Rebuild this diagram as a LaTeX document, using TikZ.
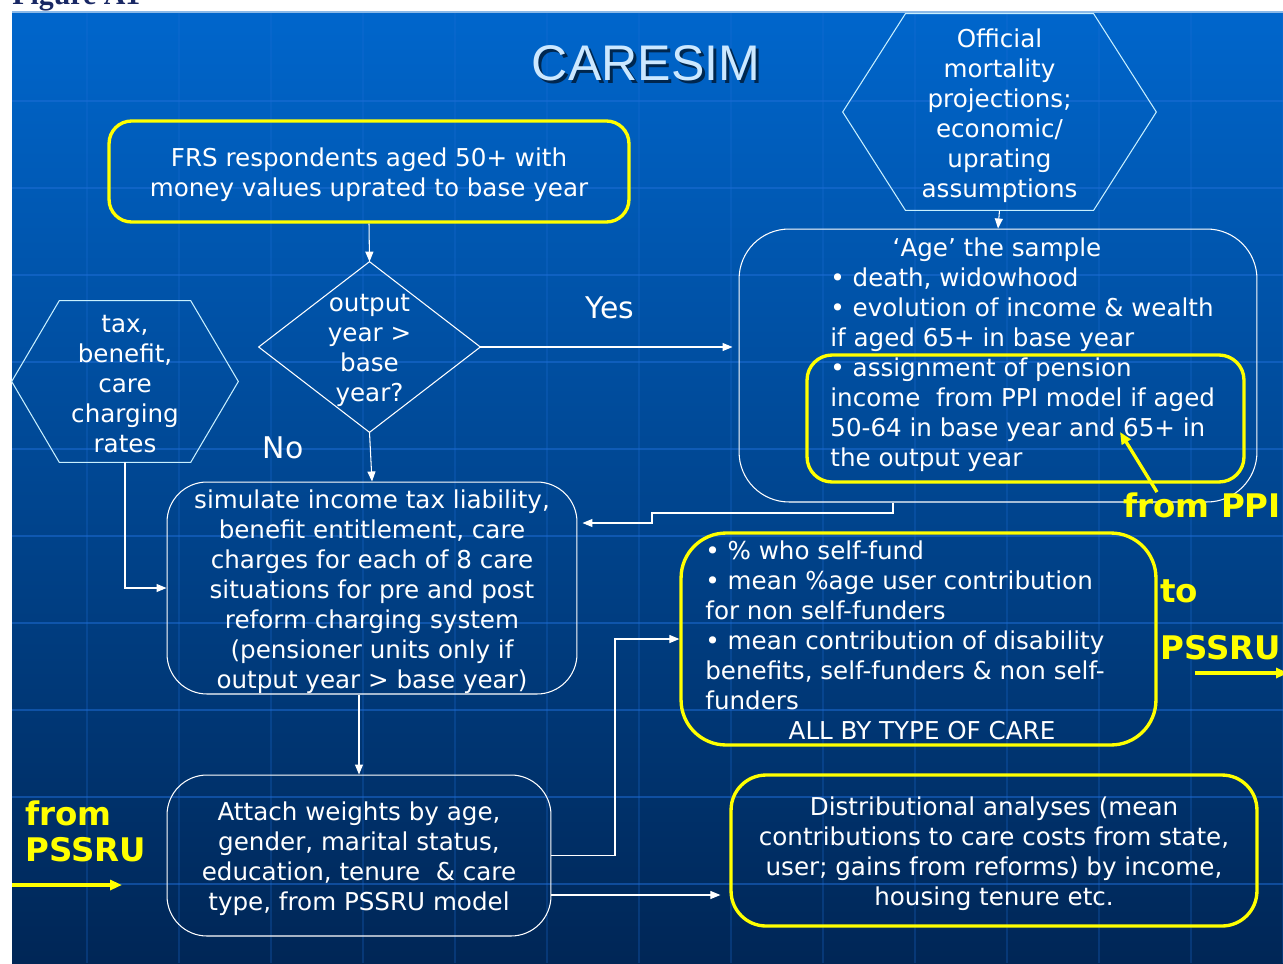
\documentclass[tikz,border=0pt]{standalone}
\usepackage{fontspec}
\setmainfont{DejaVu Sans}
\newfontfamily\titlefont{Liberation Sans}
\newfontfamily\figfont{Liberation Serif}
\usetikzlibrary{calc,arrows.meta}
\definecolor{slidetop}{RGB}{0,102,204}
\definecolor{slidemid}{RGB}{0,76,152}
\definecolor{slidebot}{RGB}{0,38,86}
\definecolor{gridblue}{RGB}{30,110,215}
\definecolor{boxyellow}{RGB}{255,255,0}
\definecolor{titleblue}{RGB}{204,232,255}
\definecolor{figblue}{RGB}{25,40,100}
\definecolor{hexline}{RGB}{200,240,255}

\begin{document}
\begin{tikzpicture}[x=0.02cm,y=0.02cm]
      \tikzstyle{every node}+=[inner sep=0pt, text=white]
      \tikzstyle{txt}=[font=\fontsize{14}{17.07}\selectfont, align=center]
      \tikzstyle{wbox}=[draw=white, line width=0.6pt, rounded corners=0.8cm]
      \tikzstyle{ybox}=[draw=boxyellow, line width=1.9pt, rounded corners=0.5cm]
      \tikzstyle{conn}=[white, line width=0.6pt, -{Triangle[length=2mm,width=1.6mm]}]
      \tikzstyle{yconn}=[boxyellow, line width=1.9pt, -{Triangle[length=2.4mm,width=2mm]}]
      \tikzstyle{ylab}=[text=boxyellow, font=\fontsize{18.5}{21}\selectfont\bfseries, anchor=west]
      \useasboundingbox (0,0) rectangle (1283,-963);
      \clip (0,0) rectangle (1283,-963);
      \fill [white] (0,0) rectangle (1283,-963);
      \shade [top color=slidetop, middle color=slidemid, bottom color=slidebot] (12,-12) rectangle (1283,-963);
      \foreach \gy in {101,188,...,886}
        \draw [gridblue, opacity=0.5, line width=0.8pt] (12,-\gy) -- (1283,-\gy);
      \foreach \gx in {87,179,...,1283}
        \draw [gridblue, opacity=0.25, line width=0.8pt] (\gx,-12) -- (\gx,-963);
      \draw [white!55!slidetop, line width=0.8pt] (12,-12) -- (1283,-12);
      \node [anchor=base west, text=figblue, font=\figfont\bfseries\fontsize{17}{20}\selectfont] (figlab) at (12,-5) {Figure A1};
      \node [text=black, opacity=0.6, font=\titlefont\fontsize{28.5}{30}\selectfont] (titleshadow) at (649,-66) {CARESIM};
      \node [text=titleblue, font=\titlefont\fontsize{28.5}{30}\selectfont] (title) at (646,-63) {CARESIM};
      \node [ybox, minimum width=10.4cm, minimum height=2.02cm, rounded corners=0.45cm] (frs) at (369,-171.5) {};
      \node [txt, yshift=-0.07cm] (frstxt) at (frs.center) {FRS respondents aged 50+ with\\money values uprated to base year};
      \node [minimum width=6.26cm, minimum height=3.92cm] (offic) at (999.5,-112) {};
      \node [txt, yshift=-0.08cm] (offictxt) at (offic.center) {Official\\mortality\\projections;\\economic/\\uprating\\assumptions};
      \draw [hexline, line width=0.6pt] (offic.west) -- ($(offic.north west)!0.2!(offic.north east)$) -- ($(offic.north east)!0.2!(offic.north west)$) -- (offic.east) -- ($(offic.south east)!0.2!(offic.south west)$) -- ($(offic.south west)!0.2!(offic.south east)$) -- cycle;
      \node [wbox, rounded corners=1cm, minimum width=10.36cm, minimum height=5.46cm] (age) at (998,-365.5) {};
      \node [txt] (agetitle) at (997,-250) {‘Age’ the sample};
      \node [txt, align=left, anchor=west] (agelist) at (830,-310) {• death, widowhood\\• evolution of income \& wealth\\if aged 65+ in base year};
      \node [ybox, minimum width=8.74cm, minimum height=2.54cm] (ppi) at (1025.5,-418.5) {};
      \node [txt, align=left, anchor=west] (ppitxt) at (830,-415) {• assignment of pension\\income\ \ from PPI model if aged\\50-64 in base year and 65+ in\\the output year};
      \node [minimum width=4.42cm, minimum height=3.4cm] (dia) at (369.5,-347) {};
      \node [txt, yshift=-0.06cm] (diatxt) at (dia.center) {output\\year >\\base\\year?};
      \draw [white, line width=0.6pt] (dia.north) -- (dia.east) -- (dia.south) -- (dia.west) -- cycle;
      \node [minimum width=4.52cm, minimum height=3.22cm] (tax) at (125,-381.5) {};
      \node [txt, yshift=-0.06cm] (taxtxt) at (tax.center) {tax,\\benefit,\\care\\charging\\rates};
      \draw [hexline, line width=0.6pt] (tax.west) -- ($(tax.north west)!0.21!(tax.north east)$) -- ($(tax.north east)!0.21!(tax.north west)$) -- (tax.east) -- ($(tax.south east)!0.21!(tax.south west)$) -- ($(tax.south west)!0.21!(tax.south east)$) -- cycle;
      \node [txt, font=\fontsize{17}{20}\selectfont] (yes) at (610,-308) {Yes};
      \node [txt, font=\fontsize{17}{20}\selectfont] (no) at (283,-448) {No};
      \node [wbox, minimum width=8.2cm, minimum height=4.24cm] (sim) at (372,-588) {};
      \node [txt, yshift=-0.07cm] (simtxt) at (sim.center) {simulate income tax liability,\\benefit entitlement, care\\charges for each of 8 care\\situations for pre and post\\reform charging system\\(pensioner units only if\\output year > base year)};
      \node [wbox, minimum width=7.68cm, minimum height=3.22cm] (att) at (359,-855.5) {};
      \node [txt, yshift=-0.07cm] (atttxt) at (att.center) {Attach weights by age,\\gender, marital status,\\education, tenure\ \ \& care\\type, from PSSRU model};
      \node [ybox, minimum width=9.5cm, minimum height=4.24cm, rounded corners=0.9cm] (fund) at (918.5,-639) {};
      \node [txt, align=left, anchor=west] (fundtxt) at (705,-625) {• \% who self-fund\\• mean \%age user contribution\\for non self-funders\\• mean contribution of disability\\benefits, self-funders \& non self-\\funders};
      \node [txt] (alltype) at (922,-731) {ALL BY TYPE OF CARE};
      \node [ybox, minimum width=10.52cm, minimum height=3.02cm, rounded corners=0.7cm] (dist) at (994,-850.5) {};
      \node [txt, yshift=-0.07cm] (disttxt) at (dist.center) {Distributional analyses (mean\\contributions to care costs from state,\\user; gains from reforms) by income,\\housing tenure etc.};
      \draw [conn] (frs.south) -- (dia.north);
      \draw [conn, shorten >=0.12cm] (dia.east) -- (age.west |- dia.east);
      \draw [conn] (dia.south) -- (sim.north);
      \draw [conn] (offic.south) -- (age.north);
      \draw [conn] (tax.south) |- (sim.west);
      \draw [conn, shorten >=0.1cm] (age.south -| 893,0) -- (893,-513) -- (652,-513) -- (652,-523) -- (sim.east |- 0,-523);
      \draw [conn] (sim.south -| att.north) -- (att.north);
      \draw [conn] (att.east) -- (615,-855.5) |- (fund.west);
      \draw [conn, shorten >=0.18cm] (att.east |- 0,-895) -- (dist.west |- 0,-895);
      \node [ylab] (ppilab) at (1123,-505) {from PPI};
      \coordinate (ppitip) at (1120,-432);
      \draw [yconn] ([xshift=0.68cm]ppilab.north west) -- (ppitip);
      \node [ylab] (tolab) at (1160,-591) {to};
      \node [ylab] (pssrulab) at (1160,-648) {PSSRU};
      \coordinate (pssruin) at (1195,-673);
      \coordinate (pssruout) at (1288,-673);
      \draw [yconn] (pssruin) -- (pssruout);
      \node [ylab] (fromlab) at (25,-813) {from};
      \node [ylab] (pssrulabb) at (25,-850) {PSSRU};
      \coordinate (pssrufoot) at (12,-885);
      \coordinate (pssruhead) at (122,-885);
      \draw [yconn] (pssrufoot) -- (pssruhead);
\end{tikzpicture}
\end{document}
